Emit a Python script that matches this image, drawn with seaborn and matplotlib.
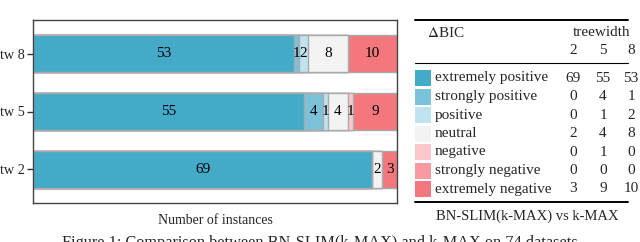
import matplotlib
matplotlib.use("Agg")
import matplotlib.pyplot as plt
from matplotlib.lines import Line2D
import matplotlib.patches as mpatches
import numpy as np
import pandas as pd
import seaborn as sns

# ---- data ----
treewidths = ["tw 8", "tw 5", "tw 2"]
categories = ["extremely positive", "strongly positive", "positive", "neutral",
              "negative", "strongly negative", "extremely negative"]
tw8_counts = [53, 1, 2, 8, 0, 0, 10]
tw5_counts = [55, 4, 1, 4, 1, 0, 9]
tw2_counts = [69, 0, 0, 2, 0, 0, 3]
colors = ["#44aac8", "#7bc2d9", "#bfe3ef", "#f3f3f3", "#fcc8cc", "#f99aa0", "#f4777e"]
table_cols = ["2", "5", "8"]

sns.set_theme(style="white")
plt.rcParams["font.family"] = ["Liberation Serif", "DejaVu Serif"]
plt.rcParams["mathtext.fontset"] = "stix"

counts = {"tw 8": tw8_counts, "tw 5": tw5_counts, "tw 2": tw2_counts}
total = sum(tw2_counts)

fig = plt.figure(figsize=(6.4, 2.42), dpi=100)
W, H = 640.0, 242.0
ax = fig.add_axes([33 / W, 1 - 203 / H, (397 - 33) / W, (203 - 20) / H])

# cumulative stacked bars drawn back to front
rows = []
for tw in treewidths:
    c = np.cumsum(counts[tw])
    for i, cat in enumerate(categories):
        rows.append({"tw": tw, "cat": cat, "cum": c[i], "val": counts[tw][i]})
df = pd.DataFrame(rows)

for i in reversed(range(len(categories))):
    sub = df[df["cat"] == categories[i]]
    sns.barplot(data=sub, x="cum", y="tw", order=treewidths, orient="h",
                color=colors[i], saturation=1, width=0.65,
                edgecolor="#aaaaaa", linewidth=1.0, ax=ax, errorbar=None)

for yi, tw in enumerate(treewidths):
    left = 0
    for v in counts[tw]:
        if v > 0:
            ax.text(left + v / 2, yi, str(v), ha="center", va="center",
                    fontsize=11, color="black")
        left += v

ax.set_xlim(0, total)
ax.set_ylim(2.58, -0.58)
ax.set_xticks([])
ax.set_xlabel("Number of instances", fontsize=10, labelpad=8)
ax.set_ylabel("")
ax.tick_params(axis="y", left=True, length=4, width=1, color="#333333",
               labelsize=10.3, pad=2)
for s in ax.spines.values():
    s.set_color("#444444")
    s.set_linewidth(1.0)

# ---- table on the right ----
def fx(px):
    return px / W

def fy(py):
    return 1 - py / H

fig.add_artist(Line2D([fx(415), fx(628)], [fy(20), fy(20)], color="black", lw=1.4))
fig.add_artist(Line2D([fx(415), fx(628)], [fy(63), fy(63)], color="black", lw=0.8))
fig.add_artist(Line2D([fx(415), fx(628)], [fy(202), fy(202)], color="black", lw=1.4))

tfs = 11
fig.text(fx(427), fy(33), r"$\Delta$BIC", fontsize=tfs, ha="left", va="center")
fig.text(fx(602), fy(33), "treewidth", fontsize=tfs, ha="center", va="center")
col_x = [573, 603, 631]
for cx, lab in zip(col_x, table_cols):
    fig.text(fx(cx), fy(51), lab, fontsize=tfs, ha="center", va="center")

row_y = [78, 96.5, 115, 133.5, 152, 170.5, 189]
for i, cat in enumerate(categories):
    ry = row_y[i]
    fig.add_artist(mpatches.Rectangle((fx(415), fy(ry + 8)), fx(16), 16 / H,
                                      facecolor=colors[i], edgecolor="none"))
    fig.text(fx(435), fy(ry), cat, fontsize=tfs, ha="left", va="center")
    for cx, v in zip(col_x, [tw2_counts[i], tw5_counts[i], tw8_counts[i]]):
        fig.text(fx(cx), fy(ry), str(v), fontsize=tfs, ha="center", va="center")

fig.text(fx(527), fy(216), "BN-SLIM(k-MAX) vs k-MAX", fontsize=10.5,
         ha="center", va="center")

# partially visible caption at the bottom edge
fig.text(fx(322), fy(235), "Figure 1: Comparison between BN-SLIM(k-MAX) and k-MAX on 74 datasets.",
         fontsize=11.7, ha="center", va="top")

fig.savefig("out.png", dpi=100)
